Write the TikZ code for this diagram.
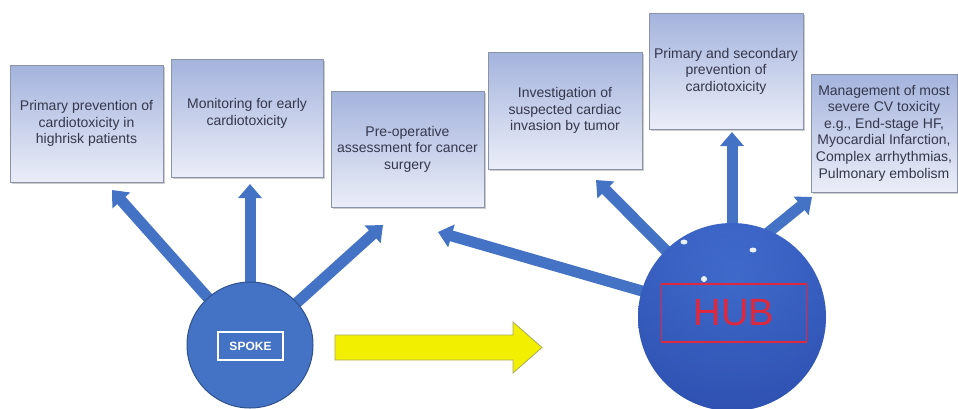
\documentclass[tikz,border=0pt]{standalone}
\usepackage{fontspec}
\setmainfont{Liberation Sans}
\usetikzlibrary{arrows.meta,shadows,backgrounds,fadings}

\definecolor{boxtop}{HTML}{A4B3DD}
\definecolor{boxbot}{HTML}{EBEEF8}
\definecolor{boxline}{HTML}{8B93A8}
\definecolor{boxink}{HTML}{35374B}
\definecolor{spokeblue}{HTML}{4472C4}
\definecolor{spokeline}{HTML}{2F528F}
\definecolor{arrowblue}{HTML}{4472C4}
\definecolor{hubred}{HTML}{E0283C}
\definecolor{flowfill}{HTML}{F2F000}
\definecolor{flowline}{HTML}{A8A860}
\definecolor{hubA}{HTML}{4370D0}
\definecolor{hubB}{HTML}{3A62C4}
\definecolor{hubC}{HTML}{3258BC}
\definecolor{hubD}{HTML}{5282DA}
\definecolor{hubshadow}{HTML}{1E3A96}

% glassy blue sphere with a lighter rim
\pgfdeclareradialshading{hubshade}{\pgfpoint{0bp}{10bp}}{%
  color(0bp)=(hubA); color(24bp)=(hubB); color(42bp)=(hubC); color(50bp)=(hubD)}

\tikzset{
  infobox/.style={rectangle, draw=boxline, line width=0.8pt,
    top color=boxtop, bottom color=boxbot, inner sep=0pt,
    drop shadow={shadow xshift=1.5pt, shadow yshift=-1.5pt, fill=black, opacity=0.2}},
  infotext/.style={align=center, text=boxink, inner sep=0pt,
    font=\fontsize{14}{16.6}\selectfont},
  arr/.style={draw=arrowblue, line width=11pt,
    -{Triangle[width=23pt,length=14pt]}},
  gloss/.style={fill=white, opacity=0.9}
}

\begin{document}
\begin{tikzpicture}[x=1pt,y=-1pt]
\useasboundingbox (0,0) rectangle (958,408);

% text boxes
\node[infobox, infotext, minimum width=153pt, minimum height=117pt] (b1) at (86.5,123.5)
  {Primary prevention of\\cardiotoxicity in\\highrisk patients};
\node[infobox, minimum width=152pt, minimum height=118pt] (b2) at (247,118) {};
\node[infotext] (b2t) at (247,113.5) {Monitoring for early\\cardiotoxicity};
\node[infobox, infotext, minimum width=153pt, minimum height=116pt] (b3) at (407.5,149)
  {Pre-operative\\assessment for cancer\\surgery};
\node[infobox, infotext, minimum width=154pt, minimum height=117pt] (b4) at (565,110.5)
  {Investigation of\\suspected cardiac\\invasion by tumor};
\node[infobox, infotext, minimum width=154pt, minimum height=116pt] (b5) at (726,71)
  {Primary and secondary\\prevention of\\cardiotoxicity};
\node[infobox, infotext, minimum width=146pt, minimum height=118pt] (b6) at (884,133)
  {Management of most\\severe CV toxicity\\e.g., End-stage HF,\\Myocardial Infarction,\\Complex arrhythmias,\\Pulmonary embolism};

% spoke and hub
\node[circle, fill=spokeblue, draw=spokeline, line width=1pt, minimum size=126pt, inner sep=0pt]
  (spoke) at (250,345) {};
\node[draw=white, line width=1.3pt, minimum width=65pt, minimum height=28pt, inner sep=0pt,
  text=white, font=\bfseries\fontsize{12}{14}\selectfont] (spokelbl) at (250.5,346) {SPOKE};

\node[circle, shade, shading=hubshade, minimum size=188pt, inner sep=0pt] (hub) at (732,317) {};
\fill[hubshadow, opacity=0.35, path fading=north] (hub.center) circle (94pt);
\fill[gloss] (684,242) ellipse (3.5pt and 2.5pt);
\fill[gloss] (753,250) ellipse (3.5pt and 2.5pt);
\fill[gloss] (704,279) ellipse (3pt and 3pt);
\node[draw=hubred, line width=1.2pt, minimum width=145pt, minimum height=58pt, inner sep=0pt,
  text=hubred, font=\fontsize{38}{40}\selectfont] (hublbl) at (734,313) {HUB};

% arrow tips below the boxes
\coordinate (t1) at (112,190);
\coordinate (t2) at (250,184);
\coordinate (t3) at (383,225);
\coordinate (t4) at (438,232);
\coordinate (t5) at (596,180);
\coordinate (t6) at (732,132);
\coordinate (t7) at (812,197);
\coordinate (h7) at (732,262);

\begin{pgfonlayer}{background}
  \draw[arr] (spoke.center) -- (t1);
  \draw[arr] (spoke.center) -- (t2);
  \draw[arr] (spoke.center) -- (t3);
  \draw[arr] (hub.center) -- (t4);
  \draw[arr] (hub.center) -- (t5);
  \draw[arr] (hub.center) -- (t6);
  \draw[arr] (h7) -- (t7);
\end{pgfonlayer}

% block arrow from spoke towards hub
\draw[fill=flowfill, draw=flowline, line width=0.8pt]
  (335,335) -- (513,335) -- (513,322) -- (542,347.5) -- (513,373) -- (513,360) -- (335,360) -- cycle;
\end{tikzpicture}
\end{document}
